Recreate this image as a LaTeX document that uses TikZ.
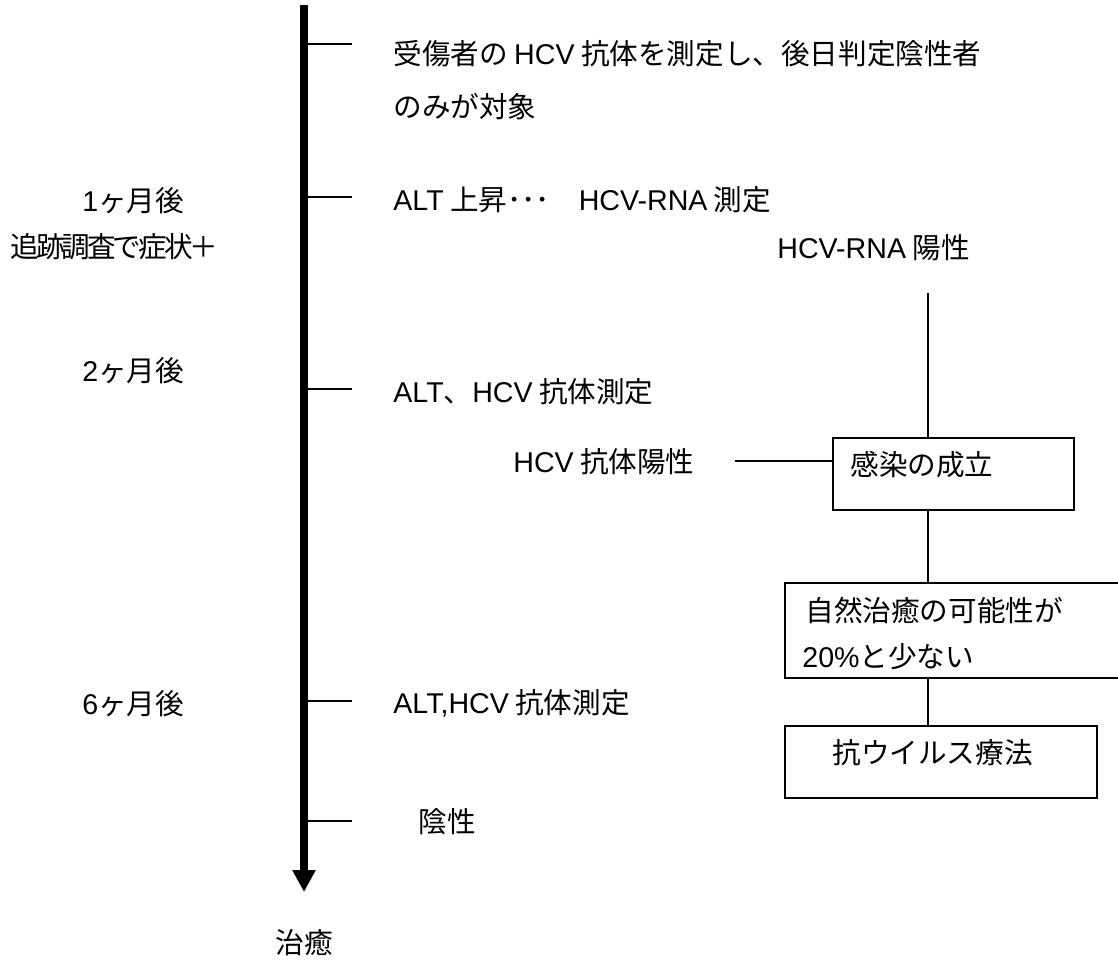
\documentclass[tikz,border=0pt]{standalone}
\usepackage{fontspec}
\newfontfamily\jp{Noto Sans CJK JP}
\newfontfamily\lat{Liberation Sans}
\newcommand\latn[1]{{\lat #1}}
\usetikzlibrary{arrows.meta}
\begin{document}
\begin{tikzpicture}[x=0.5pt,y=-0.5pt,
  txt/.style={inner sep=0pt, anchor=west, font=\jp\fontsize{14.3}{26.5}\selectfont},
  tickline/.style={line width=0.75pt},
  conn/.style={line width=0.9pt},
  boxnode/.style={draw, line width=1pt, inner sep=0pt, anchor=north west},
  axisline/.style={line width=4pt, -{Triangle[length=11pt,width=11pt]}}]
\useasboundingbox (0,0) rectangle (1118,959);
\clip (0,0) rectangle (1118,959);
% time axis
\coordinate (top) at (304,5);
\coordinate (tip) at (304,892);
\draw[axisline] (top) -- (tip);
\foreach \n/\y in {1/44,2/197,3/389,4/701,5/821}{
  \coordinate (ta\n) at (308,\y);
  \coordinate (tb\n) at (352,\y);
  \draw[tickline] (ta\n) -- (tb\n);
}
% left labels
\node[txt] (m1) at (82,201) {\latn{1}ヶ月後};
\node[txt, font=\jp\fontsize{14.3}{16}\selectfont\addfontfeature{LetterSpace=-10.5}] (sym) at (10,247) {追跡調査で症状＋};
\node[txt] (m2) at (82,371) {\latn{2}ヶ月後};
\node[txt] (m6) at (82,704) {\latn{6}ヶ月後};
\node[txt] (cure) at (275,943) {治癒};
% right texts
\node[txt, align=left] (t1) at (393,80.5) {受傷者の \latn{HCV} 抗体を測定し、後日判定陰性者\\のみが対象};
\node[txt] (t2) at (393,200) {\latn{ALT} 上昇･･･　\latn{HCV-RNA} 測定};
\node[txt] (rna) at (777,248) {\latn{HCV-RNA} 陽性};
\node[txt] (t3) at (393,392) {\latn{ALT}、\latn{HCV} 抗体測定};
\node[txt] (ab) at (513,462) {\latn{HCV} 抗体陽性};
\node[txt] (t4) at (393,703) {\latn{ALT,HCV} 抗体測定};
\node[txt] (neg) at (418,822) {陰性};
% boxes
\node[boxnode, minimum width=120.5pt, minimum height=36pt] (box1) at (832,437) {};
\node[boxnode, minimum width=170.5pt, minimum height=47.5pt] (box2) at (784,582) {};
\node[boxnode, minimum width=156pt, minimum height=36pt] (box3) at (784,725) {};
\node[txt] (b1t) at (850,465) {感染の成立};
\node[txt] (b2t1) at (805,611) {自然治癒の可能性が};
\node[txt] (b2t2) at (802,657) {\latn{20\%}と少ない};
\node[txt] (b3t) at (832,753) {抗ウイルス療法};
% connectors
\coordinate (rnaend) at (928,293);
\coordinate (abstart) at (735,461);
\draw[conn] (rnaend) -- (rnaend |- box1.north);
\draw[conn] (abstart) -- (abstart -| box1.west);
\draw[conn] (box1.south -| rnaend) -- (box2.north -| rnaend);
\draw[conn] (box2.south -| rnaend) -- (box3.north -| rnaend);
\end{tikzpicture}
\end{document}
